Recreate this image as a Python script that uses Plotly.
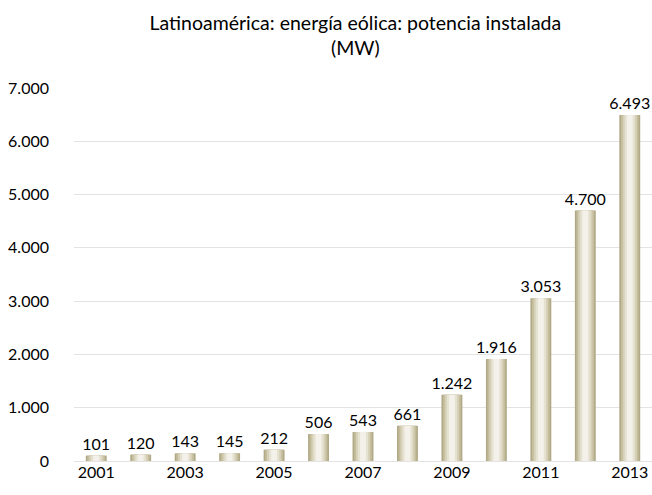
import plotly.graph_objects as go

# ─── Data ──────────────────────────────────────────────────────────────────────

years = [2001, 2002, 2003, 2004, 2005, 2006, 2007, 2008, 2009, 2010, 2011, 2012, 2013]
potencia_mw = [101, 120, 143, 145, 212, 506, 543, 661, 1242, 1916, 3053, 4700, 6493]
year_ticks = [2001, 2003, 2005, 2007, 2009, 2011, 2013]
y_ticks = [0, 1000, 2000, 3000, 4000, 5000, 6000, 7000]

# cylinder-like shading: stacked overlay bars, outer (dark) to inner (light)
_SHADES = [
    (0.47, "#b1a985"),
    (0.40, "#c4bd9d"),
    (0.32, "#d6d0b7"),
    (0.23, "#e6e2d2"),
    (0.13, "#f3f1e9"),
]

_FONT = "Lato, 'Open Sans', sans-serif"

fig = go.Figure()

for i, (w, col) in enumerate(_SHADES):
    fig.add_trace(go.Bar(
        x=years, y=potencia_mw,
        width=w,
        marker=dict(color=col, line=dict(width=0)),
        texttemplate="%{y:,}" if i == 0 else None,
        textposition="outside" if i == 0 else "none",
        constraintext="none",
        textfont=dict(size=16, color="#000000"),
        cliponaxis=False,
        hoverinfo="skip" if i else None,
        showlegend=False,
    ))

fig.update_xaxes(
    tickvals=year_ticks,
    ticktext=[str(y) for y in year_ticks],
    range=[2000.5, 2013.5],
    showgrid=False, showline=False, zeroline=False,
    tickfont=dict(size=16, color="#000000"),
)
fig.update_yaxes(
    tickvals=y_ticks,
    tickformat=",",
    range=[0, 7000],
    gridcolor="#e3e3e3", gridwidth=1,
    zeroline=True, zerolinecolor="#e3e3e3", zerolinewidth=1,
    showline=False,
    tickfont=dict(size=16, color="#000000"),
    ticklabelstandoff=24,
)

fig.update_layout(
    width=652, height=495,
    barmode="overlay",
    separators=",.",
    paper_bgcolor="white",
    plot_bgcolor="white",
    font=dict(family=_FONT, color="#000000"),
    margin=dict(l=74, r=0, t=88, b=34),
    title=dict(
        text="Latinoamérica: energía eólica: potencia instalada<br>(MW)",
        x=0.545, xanchor="center",
        y=0.94, yanchor="top",
        font=dict(size=19.5, color="#000000"),
    ),
)

# drop the default body margin so the 652x495 figure fills the window exactly
fig.write_html(
    "out.html",
    config={"displayModeBar": False},
    post_script="document.body.style.margin='0';document.body.style.overflow='hidden';",
)
